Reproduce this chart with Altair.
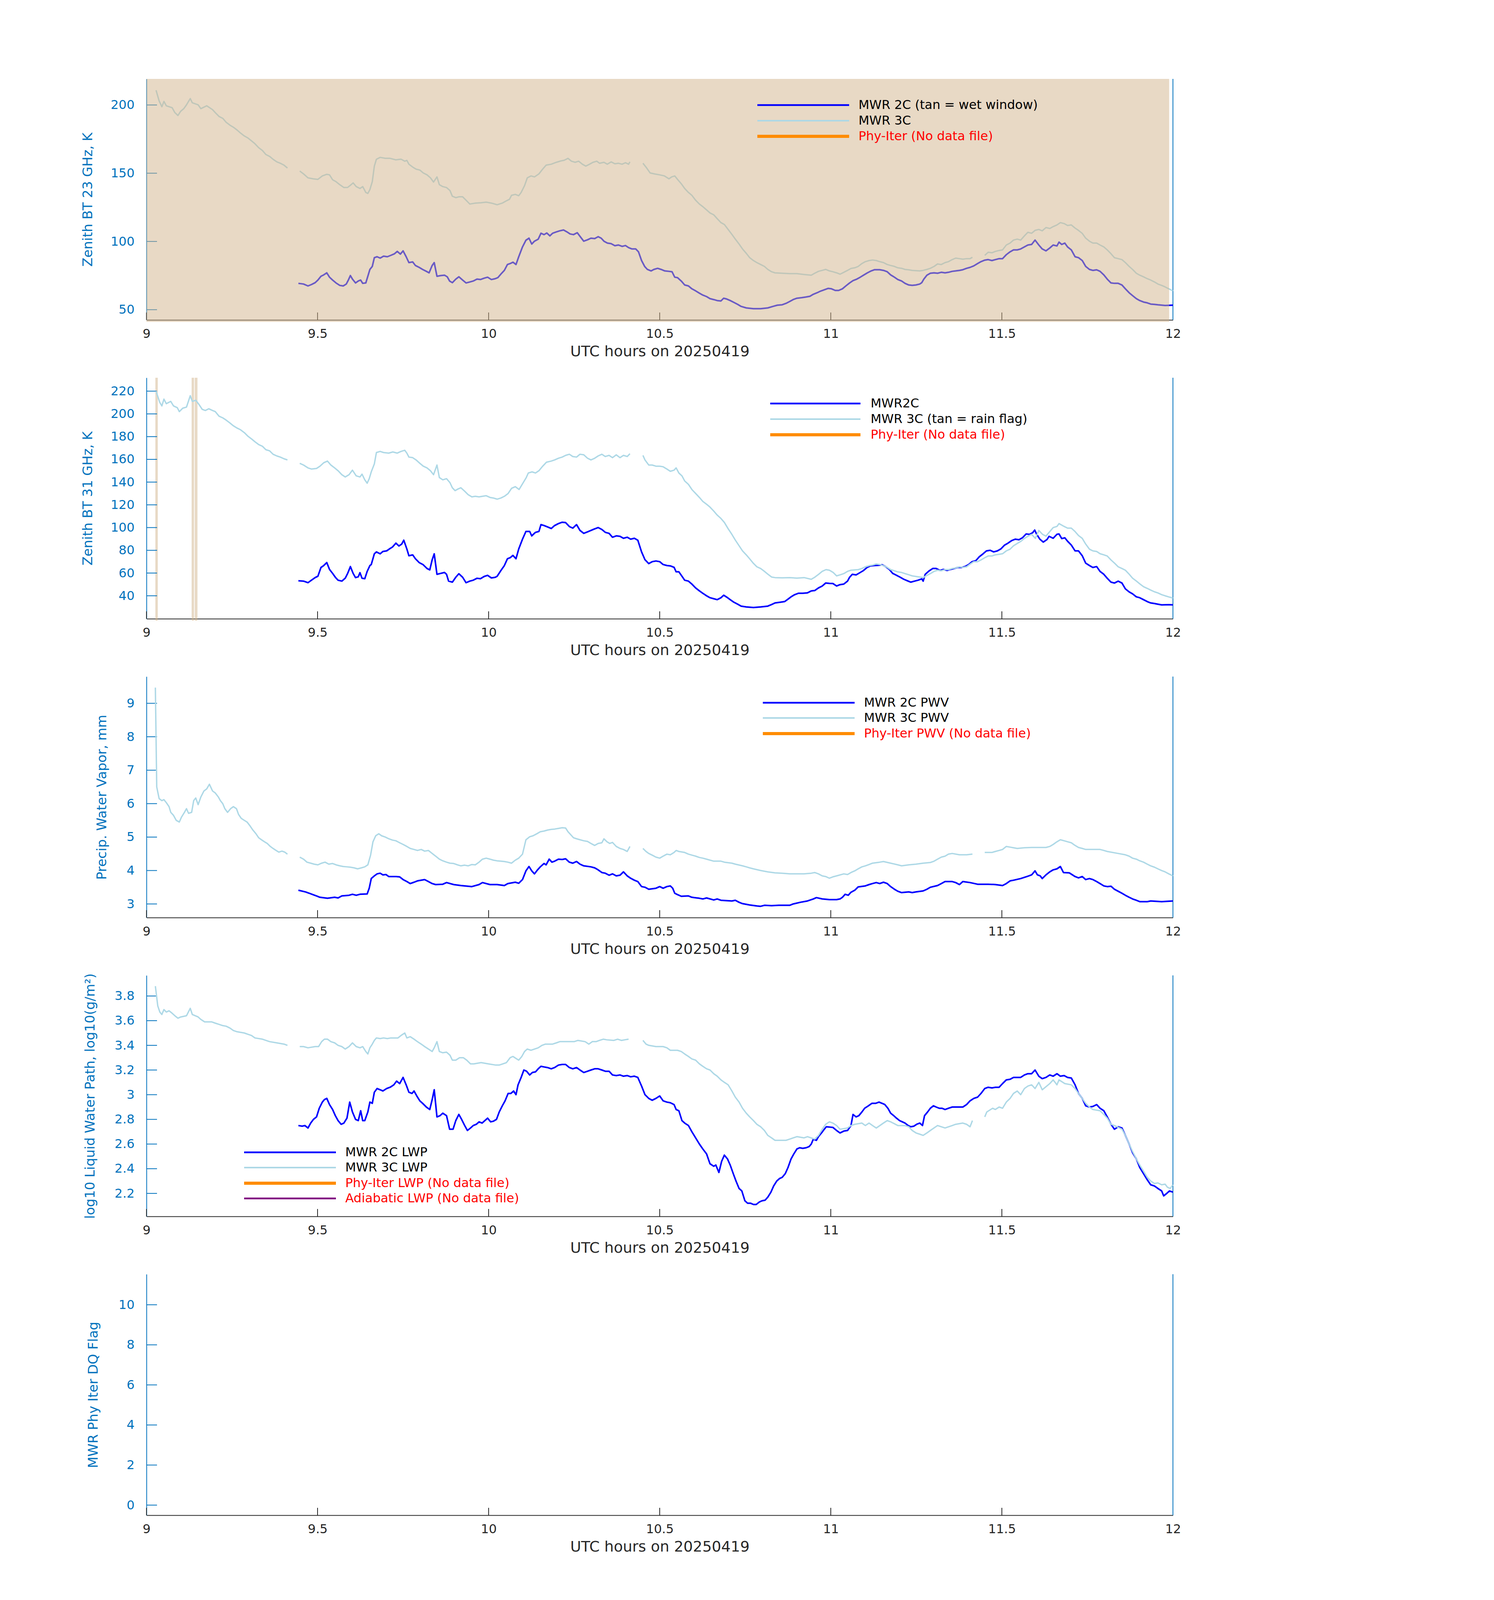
import altair as alt
import pandas as pd

FONT = "DejaVu Sans"
W = 2628          # plot width
H = 617           # plot height (the photo is only ~4100 px tall, so the layout is compressed vertically)
GAP = 148         # space between plot areas
TICK_FS = 32
LEG_FS = 32
XT_FS = 38
YT_FS = 34
BLUE = "#0000FF"
LIGHT = "#ADD8E6"
ORANGE = "#FF8C00"
PURPLE = "#800080"
AXBLUE = "#0072BD"
DARK = "#262626"
TAN = "#D2B48C"
RED = "#FF0000"

X_TICKS = [9, 9.5, 10, 10.5, 11, 11.5, 12]
X_TITLE = "UTC hours on 20250419"

# ---------------- shaded intervals ----------------
WET_START = [9.0]
WET_END = [11.989]
RAIN_START = [9.026, 9.132, 9.141]
RAIN_END = [9.033, 9.139, 9.149]

# ---------------- Panel 1: Zenith BT 23 GHz ----------------
BT23_2C = [
(9.444,69.3),(9.459,68.8),(9.472,67.4),(9.482,68.4),(9.493,69.8),(9.501,71.7),(9.510,74.5),(9.518,75.5),(9.527,77),
(9.535,73.8),(9.544,71.7),(9.554,69.6),(9.565,67.8),(9.575,67.4),(9.584,68.8),(9.590,71.7),(9.596,75),(9.602,72.4),
(9.611,69.6),(9.619,71),(9.626,71.7),(9.632,69.3),(9.641,69.6),(9.647,74.5),(9.653,79.5),(9.660,81.7),(9.666,88.1),
(9.674,88.8),(9.683,87.8),(9.693,89.2),(9.704,88.8),(9.714,89.8),(9.725,91),(9.733,92.7),(9.742,90.7),(9.750,93.1),
(9.759,88.8),(9.767,84.5),(9.778,85),(9.786,82.4),(9.797,81),(9.807,79.5),(9.818,78.1),(9.826,77),(9.835,82.4),
(9.841,84.5),(9.849,74.5),(9.860,75),(9.871,75.3),(9.879,74.1),(9.886,71),(9.894,69.8),(9.904,72.4),(9.913,74.1),
(9.924,71.7),(9.934,69.6),(9.945,70.3),(9.955,71),(9.966,72.4),(9.976,72.1),(9.987,73.1),(9.997,73.8),(10.008,72.1),
(10.019,72.7),(10.027,73.5),(10.038,76.7),(10.046,78.8),(10.055,83.1),(10.063,83.8),(10.071,84.8),(10.080,83.1),
(10.088,88.8),(10.099,96),(10.109,100.9),(10.118,102.4),(10.126,98.1),(10.134,100.2),(10.145,101.7),(10.153,106),
(10.162,105),(10.170,106.2),(10.179,104.1),(10.187,106),(10.198,107),(10.208,107.8),(10.219,108.4),(10.229,107),
(10.238,105.5),(10.248,105),(10.259,106.4),(10.269,103.1),(10.278,100.2),(10.289,101.2),(10.299,102.4),(10.310,102.1),
(10.320,103.5),(10.329,102.4),(10.337,100.2),(10.347,98.8),(10.358,98.4),(10.369,96.9),(10.379,97.4),(10.390,96.4),
(10.400,97),(10.409,95.5),(10.419,94.5),(10.430,94.5),(10.438,92.4),(10.447,86),(10.456,81.7),(10.464,79.5),
(10.475,78.4),(10.483,79.5),(10.494,80.3),(10.504,79.5),(10.515,78.4),(10.527,78.1),(10.536,77.8),(10.544,73.8),
(10.552,73.5),(10.563,71),(10.573,68.1),(10.584,67.4),(10.594,65.3),(10.605,63.8),(10.616,62.1),(10.626,60.7),
(10.637,59.6),(10.647,58.1),(10.658,57.4),(10.668,56.7),(10.679,56.4),(10.687,58.4),(10.696,57.8),(10.706,56.7),
(10.717,55.3),(10.728,53.9),(10.738,52.4),(10.753,51.3),(10.774,50.7),(10.795,50.7),(10.816,51.3),(10.831,52.4),
(10.844,53.3),(10.858,53.6),(10.869,54.6),(10.880,56),(10.890,57.4),(10.901,58.4),(10.915,58.8),(10.928,59.3),
(10.939,59.8),(10.949,61.3),(10.960,62.4),(10.970,63.6),(10.981,64.6),(10.992,65.6),(11.002,65.3),(11.013,64.1),
(11.023,64.1),(11.034,65.3),(11.044,67.4),(11.055,69.6),(11.065,71.3),(11.076,72.4),(11.086,73.8),(11.097,75.5),
(11.107,77),(11.118,78.4),(11.128,79.3),(11.143,79.3),(11.154,78.8),(11.165,77.8),(11.175,75.5),(11.186,73.8),
(11.196,72.1),(11.207,71),(11.217,69.3),(11.228,68.1),(11.238,67.8),(11.249,68.1),(11.260,68.8),(11.266,69.8),
(11.272,72.4),(11.281,75.3),(11.291,76.7),(11.302,77),(11.312,76.7),(11.323,77.4),(11.334,77),(11.344,77.4),
(11.355,78.1),(11.365,78.4),(11.376,78.8),(11.386,79.3),(11.397,80.3),(11.407,81),(11.418,82.1),(11.429,83.8),
(11.439,85.2),(11.450,86.3),(11.460,86.7),(11.471,86),(11.481,86.7),(11.492,87.4),(11.502,87.4),(11.513,90.3),
(11.524,92.4),(11.534,93.8),(11.545,93.8),(11.555,94.5),(11.566,96),(11.576,97.4),(11.587,97.8),(11.597,101),
(11.608,97.4),(11.618,94.5),(11.629,93.1),(11.640,95.2),(11.650,97.4),(11.661,96.7),(11.667,99.5),(11.675,97.8),
(11.684,98.8),(11.692,96),(11.703,93.8),(11.714,88.8),(11.724,88.1),(11.735,86),(11.745,81.7),(11.756,79.5),
(11.766,78.8),(11.777,79.2),(11.787,78.1),(11.798,75.5),(11.808,72.4),(11.819,69.6),(11.829,69.3),(11.840,69.3),
(11.851,68.1),(11.861,65.3),(11.872,62.4),(11.882,60.3),(11.893,58.1),(11.903,56.7),(11.914,55.6),(11.925,55),
(11.935,54.1),(11.946,53.9),(11.956,53.6),(11.977,53.1),(12.000,53.3),
]
BT23_3C = [
(9.028,210.8),(9.037,203),(9.045,198.7),(9.051,202.6),(9.058,199.4),(9.075,198),(9.083,194.4),(9.092,192.3),
(9.100,195.4),(9.109,197.3),(9.117,200.1),(9.128,204.7),(9.134,201.6),(9.151,200.1),(9.159,197.3),(9.176,199.4),
(9.193,196.6),(9.201,194.4),(9.212,191.6),(9.223,190.2),(9.233,187.3),(9.244,185.2),(9.254,183.7),(9.265,181.6),
(9.275,179.4),(9.286,177.3),(9.296,175.9),(9.307,173.7),(9.317,171.6),(9.328,168.7),(9.339,166.6),(9.349,163.7),
(9.360,162.3),(9.370,160.2),(9.381,158.3),(9.391,157.3),(9.402,155.9),(9.412,153.8),None,
(9.448,151.6),(9.459,149.5),(9.472,146.6),(9.487,145.9),(9.501,145.5),(9.514,148),(9.527,149.2),(9.535,148.8),
(9.544,145.2),(9.554,143.8),(9.565,141.6),(9.577,139.5),(9.588,139.6),(9.598,141.6),(9.604,142.9),(9.613,140.2),
(9.624,138.8),(9.632,140.2),(9.641,135.9),(9.647,135.2),(9.653,138),(9.660,143.8),(9.666,155.2),(9.672,160.2),
(9.683,161.6),(9.698,160.9),(9.712,160.9),(9.729,159.8),(9.744,160.3),(9.755,158.8),(9.761,159.4),(9.767,156.6),
(9.778,154.5),(9.788,153),(9.799,152.3),(9.809,150.2),(9.820,148.8),(9.830,146.6),(9.839,143.5),(9.849,147.3),
(9.856,141.6),(9.866,140.2),(9.877,139.5),(9.887,137.3),(9.894,133.1),(9.904,132.1),(9.913,132.7),(9.924,132.7),
(9.934,130.2),(9.945,127.4),(9.961,128.1),(9.978,128.4),(9.993,128.8),(10.008,128.1),(10.025,126.9),(10.040,128.1),
(10.050,129.5),(10.061,130.9),(10.067,133.8),(10.078,134.5),(10.088,133.5),(10.095,135.9),(10.105,140.9),
(10.113,146.6),(10.124,148),(10.134,147.3),(10.147,149.5),(10.158,153),(10.168,155.9),(10.183,156.6),(10.198,158),
(10.211,159),(10.221,159.5),(10.232,160.9),(10.242,158.8),(10.253,158),(10.263,158.8),(10.274,156.6),(10.284,155.2),
(10.295,156.6),(10.305,158),(10.316,158.8),(10.324,157.3),(10.337,158),(10.347,156.6),(10.358,158.3),(10.369,156.9),
(10.379,157.3),(10.390,156.6),(10.400,157.7),(10.409,156.6),(10.413,158.3),None,
(10.451,157.3),(10.462,153.8),(10.472,150.2),(10.485,149.5),(10.500,148.8),(10.514,148),(10.527,145.9),(10.535,147.3),
(10.544,148),(10.552,145.5),(10.563,142.3),(10.573,138.8),(10.584,135.9),(10.594,133.8),(10.605,130.2),(10.616,127.4),
(10.626,125.5),(10.637,123.1),(10.647,120.9),(10.658,119.5),(10.668,116.7),(10.679,113.8),(10.689,112.4),
(10.700,108.8),(10.711,105.2),(10.721,101.7),(10.732,98.1),(10.742,94.5),(10.753,91.3),(10.763,88.1),(10.774,86),
(10.784,84.5),(10.795,83.1),(10.806,81.7),(10.816,79.5),(10.827,77.8),(10.837,77),(10.858,76.7),(10.880,76.4),
(10.901,76.4),(10.922,75.8),(10.943,75.3),(10.953,76.7),(10.964,78.1),(10.975,78.8),(10.985,79.5),(10.996,78.4),
(11.006,77.8),(11.017,77),(11.027,76),(11.038,77.4),(11.049,78.8),(11.059,80.2),(11.070,80.7),(11.080,81.7),
(11.091,83.8),(11.101,85.2),(11.112,86),(11.122,86.4),(11.133,86),(11.143,85.2),(11.154,84.5),(11.165,83.1),
(11.175,82.4),(11.186,81.7),(11.196,80.7),(11.207,80.3),(11.217,79.5),(11.228,79.2),(11.238,78.8),(11.260,78.4),
(11.270,78.8),(11.281,79.5),(11.291,80.3),(11.302,81.7),(11.312,83.5),(11.323,83.1),(11.334,84.5),(11.344,85.2),
(11.355,86.7),(11.365,87.8),(11.376,87.4),(11.386,87),(11.397,87.4),(11.407,87.4),(11.414,88.4),None,
(11.450,89.8),(11.460,92.1),(11.471,91.7),(11.481,92.7),(11.492,93.4),(11.502,93.8),(11.513,97.4),(11.524,98.8),
(11.534,101),(11.545,101.7),(11.555,101),(11.566,104.1),(11.576,106.7),(11.587,106),(11.597,108.1),(11.608,108.8),
(11.618,107.8),(11.629,110.2),(11.640,109.5),(11.650,110.9),(11.661,112.1),(11.671,113.8),(11.682,113.1),
(11.692,111.7),(11.703,112.1),(11.714,109.8),(11.724,108.1),(11.735,105.9),(11.745,102.4),(11.756,100.2),
(11.766,98.8),(11.777,98.8),(11.787,97.4),(11.798,96),(11.808,93.8),(11.819,91),(11.829,88.1),(11.840,87.4),
(11.851,86.7),(11.861,84.5),(11.872,81.7),(11.882,79.5),(11.893,76.7),(11.903,75.3),(11.914,74.1),(11.925,72.7),
(11.935,71.7),(11.946,70.3),(11.956,68.8),(11.967,67.8),(11.977,66.7),(11.988,65.3),(12.000,63.8),
]

# ---------------- Panel 2: Zenith BT 31 GHz ----------------
BT31_2C = [
(9.444,53.2),(9.459,52.9),(9.472,51.5),(9.482,53.7),(9.493,56),(9.501,57.2),(9.510,64.9),(9.518,66.6),(9.527,69.2),
(9.535,63.2),(9.544,59.7),(9.552,56.3),(9.560,53.7),(9.571,52.9),(9.581,55.5),(9.588,59.7),(9.596,65.7),(9.604,59.7),
(9.611,56),(9.619,56.7),(9.624,60.3),(9.630,55.4),(9.638,55),(9.645,61.4),(9.653,66.6),(9.657,67.5),(9.666,76.9),
(9.672,78.6),(9.683,76.9),(9.691,79),(9.702,79.5),(9.710,81.2),(9.719,82.9),(9.729,86.3),(9.738,83.8),(9.746,85.5),
(9.752,88.9),(9.761,81.2),(9.767,75.2),(9.778,76),(9.786,72.6),(9.797,69.2),(9.808,67.5),(9.820,64),(9.828,62.8),
(9.835,71.7),(9.841,76.9),(9.849,58.9),(9.860,59.7),(9.871,60.5),(9.877,58.9),(9.883,52.9),(9.894,52),(9.904,56.3),
(9.913,59.4),(9.924,56.3),(9.934,51.5),(9.945,52.9),(9.955,53.7),(9.966,55.4),(9.976,55),(9.987,57),(9.997,58),
(10.008,55.7),(10.019,56.2),(10.025,57.2),(10.036,62.3),(10.046,66.6),(10.055,72.6),(10.063,73.5),(10.071,75.5),
(10.080,72.6),(10.088,81.2),(10.099,89.8),(10.109,96.6),(10.120,96.6),(10.126,92.7),(10.137,95.8),(10.147,96.6),
(10.153,102.6),(10.162,101.8),(10.172,100.6),(10.183,99.2),(10.193,101.8),(10.204,103.5),(10.215,104.7),
(10.225,104.4),(10.236,100.9),(10.246,99.5),(10.257,102.6),(10.267,97.5),(10.278,94.9),(10.289,96.2),(10.299,97.5),
(10.310,98.9),(10.320,100),(10.331,98.3),(10.341,95.8),(10.352,94.9),(10.362,91.5),(10.373,92.7),(10.384,92.3),
(10.394,90.6),(10.405,91.5),(10.415,89.8),(10.426,90.6),(10.436,88.9),(10.447,78.6),(10.457,71.7),(10.468,68.3),
(10.478,70),(10.489,70.6),(10.500,70),(10.510,67.5),(10.521,66.6),(10.531,66.3),(10.542,65),(10.548,61.1),
(10.556,61.1),(10.565,57.2),(10.573,53.7),(10.584,52.9),(10.594,50.3),(10.605,46.9),(10.616,44.3),(10.626,42.2),
(10.637,40),(10.647,38.3),(10.658,37.4),(10.668,36.6),(10.679,38.3),(10.687,40.5),(10.696,38.8),(10.706,36.6),
(10.717,34.3),(10.728,32.6),(10.738,30.9),(10.753,30.2),(10.774,29.7),(10.795,30.2),(10.816,30.9),(10.827,32.3),
(10.837,33.7),(10.852,34.3),(10.865,34.9),(10.873,36.6),(10.884,39.1),(10.894,40.9),(10.905,42.2),(10.918,42.2),
(10.932,42.6),(10.943,44.3),(10.953,44.6),(10.964,46.9),(10.975,48.6),(10.985,51.2),(10.996,50.9),(11.006,50.8),
(11.017,48.6),(11.027,49.8),(11.038,50.3),(11.049,52.9),(11.055,56.3),(11.063,58.9),(11.074,58.4),(11.085,60.3),
(11.095,62.1),(11.106,64.9),(11.116,66.3),(11.127,66.6),(11.139,66.8),(11.150,67.3),(11.160,65.7),(11.171,63.2),
(11.181,59.7),(11.192,58),(11.203,56.3),(11.213,54.6),(11.224,53.2),(11.234,52),(11.245,52.9),(11.255,53.7),
(11.266,54.9),(11.270,52.9),(11.276,58.9),(11.287,61.8),(11.298,64),(11.308,64),(11.319,62.3),(11.329,63.2),
(11.340,62.3),(11.350,63.2),(11.361,64),(11.371,64.9),(11.382,64.9),(11.392,65.7),(11.403,67.5),(11.413,70),
(11.424,70.9),(11.434,74.3),(11.445,76.9),(11.455,79.5),(11.466,80),(11.476,78.6),(11.487,79.5),(11.497,81.2),
(11.508,84.6),(11.518,86.3),(11.529,88.6),(11.539,89.8),(11.550,89.3),(11.560,91),(11.571,94.4),(11.581,94),
(11.590,95.5),(11.596,97.8),(11.602,94),(11.611,89.8),(11.621,87.2),(11.632,89.5),(11.638,92.3),(11.650,90.6),
(11.661,94.1),(11.667,94.4),(11.675,90.3),(11.684,91),(11.692,88),(11.703,84.6),(11.714,79.5),(11.724,79.5),
(11.735,75.2),(11.745,68.7),(11.756,66.6),(11.766,64.9),(11.777,65.7),(11.787,61.4),(11.798,58.9),(11.808,55.4),
(11.819,52),(11.829,51.2),(11.840,52.9),(11.851,51.2),(11.861,46.1),(11.872,43.4),(11.882,41.7),(11.893,39.1),
(11.903,38.3),(11.914,36.6),(11.925,34.9),(11.935,33.7),(11.946,33.2),(11.956,32.6),(11.967,32),(11.988,32.2),
(12.000,32),
]
BT31_3C = [
(9.028,220),(9.039,210),(9.045,207),(9.051,213),(9.058,209),(9.071,211),(9.079,207),(9.090,205.5),(9.096,202),
(9.106,205),(9.117,206),(9.128,216),(9.134,211),(9.144,212),(9.153,208.5),(9.163,204),(9.172,203),(9.182,204.5),
(9.193,203),(9.201,202),(9.212,198),(9.223,196.5),(9.233,194.5),(9.244,192),(9.254,189.5),(9.265,187.5),(9.275,186),
(9.286,183.5),(9.296,180.5),(9.307,178),(9.317,175.5),(9.328,173),(9.339,171.5),(9.349,168.5),(9.360,167.5),
(9.370,164.5),(9.381,163),(9.391,162),(9.402,160.5),(9.412,159.5),None,
(9.448,156.5),(9.459,155),(9.472,152.5),(9.482,151.5),(9.497,152),(9.507,154),(9.518,157),(9.529,158.5),(9.539,155),
(9.550,152.5),(9.560,150),(9.571,146.5),(9.581,144.5),(9.592,146.5),(9.602,150.5),(9.613,145.5),(9.624,144.5),
(9.630,147),(9.638,142),(9.645,139),(9.651,143),(9.657,149),(9.666,156),(9.672,166),(9.683,167),(9.693,166),
(9.708,165.5),(9.720,166.5),(9.733,165.5),(9.744,167),(9.755,168),(9.761,165.5),(9.767,162),(9.778,161.5),
(9.788,159.5),(9.799,156.5),(9.809,154),(9.820,152.5),(9.830,150),(9.839,146.5),(9.849,155),(9.856,144),(9.866,142),
(9.877,143),(9.887,139.5),(9.894,135),(9.902,132.5),(9.911,134),(9.919,135),(9.930,132),(9.940,129),(9.951,127),
(9.961,127.5),(9.972,127),(9.982,127.5),(9.993,128),(10.004,126.5),(10.014,126),(10.025,125),(10.036,126),
(10.046,127.5),(10.057,130),(10.067,134.5),(10.078,136),(10.089,133.5),(10.099,138.5),(10.110,144),(10.116,148),
(10.127,149),(10.137,148),(10.147,150),(10.158,154),(10.169,157.5),(10.183,158.5),(10.193,159.5),(10.204,161),
(10.215,162),(10.225,163.5),(10.236,164.5),(10.246,162.5),(10.257,162),(10.267,164.5),(10.278,164),(10.289,161),
(10.299,159.5),(10.310,161),(10.320,163),(10.331,164.5),(10.341,162.5),(10.352,163.5),(10.362,161.5),(10.373,164),
(10.384,161.5),(10.394,163.5),(10.405,162.5),(10.413,165),None,
(10.451,163.5),(10.457,159.5),(10.468,155),(10.478,155),(10.489,154),(10.500,154),(10.510,153.5),(10.521,151.5),
(10.531,149.5),(10.542,150.5),(10.548,152.5),(10.556,148),(10.565,145.5),(10.573,141),(10.584,138),(10.594,133.5),
(10.605,130),(10.616,126.5),(10.626,123),(10.637,120.5),(10.647,118),(10.658,114.5),(10.668,111),(10.679,108),
(10.689,104.5),(10.700,99),(10.711,94),(10.721,89),(10.732,84),(10.742,79.5),(10.753,76),(10.763,72.5),(10.774,68.5),
(10.784,65.5),(10.795,64),(10.806,61.5),(10.816,59),(10.827,56.5),(10.837,56),(10.858,55.8),(10.880,56),(10.901,55.5),
(10.922,56),(10.943,54.5),(10.954,56.5),(10.965,59),(10.975,61.5),(10.986,63),(10.996,62.5),(11.007,60.5),
(11.017,57.5),(11.028,58.5),(11.038,59.5),(11.049,61.5),(11.059,62.5),(11.080,63),(11.091,64),(11.101,65.5),
(11.112,66.5),(11.122,67),(11.133,68),(11.143,67.5),(11.154,66.5),(11.165,65),(11.175,63),(11.186,62),(11.196,61),
(11.207,60.5),(11.217,59.5),(11.228,58.5),(11.238,57.5),(11.249,57),(11.260,56.5),(11.270,56),(11.281,58),
(11.291,59.5),(11.302,61.5),(11.312,62.5),(11.323,62),(11.334,63),(11.345,63),(11.355,64),(11.366,64.5),(11.376,65.5),
(11.387,65),(11.397,65.5),(11.408,68),(11.418,70),(11.429,70),(11.439,71.5),(11.450,73.5),(11.460,75),(11.471,75),
(11.481,76),(11.492,76.5),(11.502,77),(11.513,79.5),(11.524,81),(11.534,84),(11.545,86),(11.556,88),(11.566,90.5),
(11.577,92.5),(11.587,94),(11.598,90.5),(11.608,97.5),(11.619,94),(11.629,92.5),(11.640,96.5),(11.650,100),
(11.661,101),(11.667,103.5),(11.676,102),(11.682,101),(11.692,99.5),(11.703,99.5),(11.714,96.5),(11.724,93),
(11.735,90.5),(11.745,85.5),(11.756,81),(11.766,79.5),(11.777,79),(11.787,77),(11.798,76),(11.808,75),(11.819,71.5),
(11.830,68.5),(11.840,65.5),(11.851,64),(11.861,62.5),(11.872,59),(11.882,55.5),(11.893,53),(11.903,50.5),(11.914,48),
(11.925,46.5),(11.935,45),(11.946,43.5),(11.956,42.5),(11.967,41),(11.977,40),(11.988,39),(12.000,38),
]

# ---------------- Panel 3: Precipitable water vapor ----------------
PWV_2C = [
(9.444,3.41),(9.465,3.36),(9.476,3.32),(9.486,3.28),(9.497,3.24),(9.507,3.20),(9.529,3.17),(9.550,3.20),(9.560,3.18),
(9.571,3.24),(9.592,3.26),(9.602,3.29),(9.613,3.26),(9.624,3.29),(9.645,3.30),(9.651,3.47),(9.657,3.76),(9.666,3.84),
(9.674,3.90),(9.683,3.92),(9.691,3.87),(9.700,3.88),(9.708,3.82),(9.729,3.82),(9.740,3.81),(9.750,3.73),(9.761,3.67),
(9.771,3.61),(9.782,3.65),(9.792,3.69),(9.813,3.73),(9.824,3.67),(9.835,3.61),(9.845,3.58),(9.866,3.59),(9.877,3.64),
(9.898,3.58),(9.919,3.55),(9.951,3.52),(9.972,3.58),(9.982,3.64),(10.004,3.58),(10.025,3.58),(10.046,3.55),
(10.056,3.61),(10.078,3.65),(10.088,3.62),(10.099,3.73),(10.109,3.99),(10.118,4.12),(10.126,3.99),(10.134,3.90),
(10.143,4.02),(10.151,4.11),(10.162,4.21),(10.168,4.17),(10.177,4.34),(10.185,4.25),(10.193,4.28),(10.204,4.34),
(10.215,4.33),(10.225,4.35),(10.236,4.25),(10.246,4.22),(10.257,4.27),(10.267,4.19),(10.278,4.14),(10.299,4.11),
(10.310,4.08),(10.320,4.02),(10.331,3.94),(10.341,3.92),(10.352,3.86),(10.362,3.90),(10.373,3.84),(10.384,3.86),
(10.394,3.96),(10.405,3.84),(10.415,3.77),(10.426,3.71),(10.436,3.67),(10.447,3.52),(10.457,3.50),(10.468,3.44),
(10.489,3.47),(10.500,3.52),(10.510,3.47),(10.521,3.52),(10.531,3.54),(10.538,3.47),(10.544,3.32),(10.552,3.28),
(10.563,3.23),(10.584,3.24),(10.594,3.20),(10.616,3.17),(10.626,3.15),(10.637,3.18),(10.658,3.12),(10.668,3.15),
(10.679,3.11),(10.711,3.09),(10.721,3.11),(10.732,3.05),(10.742,3.01),(10.763,2.97),(10.784,2.94),(10.795,2.93),
(10.806,2.96),(10.827,2.95),(10.848,2.96),(10.880,2.96),(10.890,3.00),(10.911,3.05),(10.932,3.09),(10.949,3.15),
(10.958,3.19),(10.975,3.15),(10.996,3.13),(11.017,3.13),(11.027,3.15),(11.034,3.20),(11.042,3.29),(11.051,3.26),
(11.059,3.35),(11.070,3.41),(11.080,3.51),(11.101,3.54),(11.112,3.58),(11.122,3.61),(11.133,3.64),(11.143,3.61),
(11.154,3.65),(11.165,3.61),(11.175,3.52),(11.186,3.44),(11.196,3.38),(11.207,3.34),(11.228,3.36),(11.238,3.34),
(11.249,3.36),(11.270,3.39),(11.281,3.44),(11.291,3.50),(11.312,3.55),(11.323,3.61),(11.334,3.67),(11.355,3.67),
(11.365,3.64),(11.376,3.58),(11.386,3.67),(11.407,3.64),(11.429,3.59),(11.460,3.59),(11.481,3.58),(11.502,3.55),
(11.513,3.61),(11.524,3.69),(11.534,3.71),(11.555,3.76),(11.576,3.83),(11.587,3.87),(11.597,3.99),(11.604,3.87),
(11.612,3.84),(11.618,3.76),(11.629,3.87),(11.640,3.96),(11.650,4.02),(11.661,4.05),(11.671,4.12),(11.680,3.94),
(11.697,3.93),(11.714,3.82),(11.724,3.78),(11.735,3.82),(11.745,3.73),(11.756,3.76),(11.766,3.73),(11.777,3.67),
(11.787,3.61),(11.798,3.54),(11.808,3.52),(11.819,3.53),(11.829,3.44),(11.840,3.38),(11.851,3.32),(11.861,3.26),
(11.872,3.20),(11.882,3.15),(11.893,3.11),(11.903,3.07),(11.925,3.07),(11.935,3.09),(11.967,3.07),(12.000,3.09),
]
PWV_3C = [
(9.026,9.47),(9.030,6.50),(9.037,6.15),(9.045,6.09),(9.051,6.12),(9.058,6.03),(9.066,5.91),(9.071,5.74),(9.079,5.65),
(9.087,5.50),(9.096,5.45),(9.102,5.59),(9.111,5.74),(9.117,5.85),(9.123,5.71),(9.132,5.74),(9.138,6.09),(9.144,6.17),
(9.151,5.97),(9.159,6.20),(9.168,6.38),(9.176,6.44),(9.184,6.58),(9.193,6.38),(9.201,6.32),(9.210,6.20),(9.216,6.09),
(9.223,6.00),(9.229,5.85),(9.237,5.74),(9.246,5.85),(9.254,5.91),(9.263,5.85),(9.269,5.68),(9.277,5.56),(9.286,5.50),
(9.294,5.45),(9.303,5.33),(9.311,5.21),(9.320,5.10),(9.328,4.98),(9.336,4.92),(9.345,4.86),(9.353,4.81),(9.362,4.72),
(9.370,4.66),(9.379,4.60),(9.387,4.55),(9.396,4.58),(9.404,4.55),(9.412,4.49),None,
(9.448,4.40),(9.459,4.34),(9.469,4.25),(9.480,4.22),(9.490,4.19),(9.501,4.17),(9.512,4.22),(9.522,4.25),(9.533,4.19),
(9.544,4.21),(9.554,4.17),(9.565,4.14),(9.575,4.12),(9.586,4.11),(9.596,4.10),(9.607,4.08),(9.617,4.05),(9.628,4.08),
(9.638,4.11),(9.647,4.17),(9.655,4.46),(9.662,4.86),(9.670,5.04),(9.679,5.10),(9.687,5.04),(9.698,5.00),(9.708,4.95),
(9.719,4.91),(9.729,4.89),(9.740,4.83),(9.750,4.78),(9.761,4.72),(9.771,4.66),(9.782,4.63),(9.792,4.60),(9.803,4.63),
(9.813,4.58),(9.824,4.60),(9.835,4.51),(9.845,4.43),(9.856,4.34),(9.866,4.29),(9.877,4.25),(9.887,4.22),(9.898,4.21),
(9.909,4.17),(9.919,4.14),(9.930,4.16),(9.940,4.14),(9.951,4.18),(9.961,4.17),(9.972,4.25),(9.982,4.34),(9.993,4.37),
(10.004,4.34),(10.014,4.31),(10.025,4.29),(10.035,4.28),(10.046,4.27),(10.056,4.25),(10.067,4.22),(10.078,4.31),
(10.088,4.37),(10.099,4.49),(10.109,4.92),(10.120,5.01),(10.130,5.04),(10.141,5.10),(10.151,5.16),(10.162,5.18),
(10.172,5.21),(10.183,5.23),(10.193,5.24),(10.204,5.26),(10.215,5.28),(10.225,5.27),(10.232,5.16),(10.240,5.07),
(10.248,4.98),(10.257,4.95),(10.267,4.92),(10.278,4.89),(10.289,4.87),(10.299,4.81),(10.310,4.75),(10.320,4.81),
(10.331,4.83),(10.337,4.95),(10.346,4.86),(10.354,4.81),(10.362,4.84),(10.373,4.72),(10.384,4.66),(10.394,4.63),
(10.405,4.57),(10.413,4.72),None,
(10.451,4.66),(10.460,4.57),(10.468,4.51),(10.478,4.46),(10.489,4.40),(10.500,4.37),(10.510,4.43),(10.521,4.49),
(10.531,4.47),(10.542,4.54),(10.548,4.60),(10.556,4.57),(10.573,4.54),(10.584,4.49),(10.605,4.43),(10.616,4.39),
(10.626,4.37),(10.637,4.34),(10.658,4.28),(10.679,4.28),(10.689,4.25),(10.711,4.22),(10.721,4.19),(10.742,4.14),
(10.753,4.11),(10.763,4.08),(10.774,4.05),(10.795,4.00),(10.816,3.96),(10.837,3.93),(10.858,3.92),(10.880,3.90),
(10.922,3.90),(10.943,3.92),(10.953,3.94),(10.964,3.90),(10.975,3.84),(10.985,3.82),(10.996,3.77),(11.006,3.81),
(11.017,3.84),(11.038,3.90),(11.049,3.88),(11.059,3.94),(11.070,3.99),(11.080,4.05),(11.091,4.11),(11.101,4.14),
(11.112,4.18),(11.122,4.22),(11.143,4.25),(11.154,4.27),(11.175,4.22),(11.196,4.17),(11.207,4.14),(11.228,4.17),
(11.249,4.19),(11.270,4.22),(11.291,4.24),(11.302,4.28),(11.312,4.34),(11.323,4.40),(11.334,4.43),(11.344,4.49),
(11.355,4.51),(11.376,4.47),(11.397,4.47),(11.414,4.49),None,
(11.450,4.54),(11.471,4.54),(11.481,4.57),(11.492,4.60),(11.502,4.63),(11.513,4.72),(11.524,4.70),(11.534,4.68),
(11.545,4.66),(11.566,4.68),(11.587,4.69),(11.608,4.69),(11.629,4.69),(11.640,4.72),(11.650,4.78),(11.661,4.86),
(11.671,4.92),(11.682,4.89),(11.692,4.86),(11.703,4.83),(11.714,4.75),(11.724,4.69),(11.735,4.66),(11.745,4.63),
(11.766,4.63),(11.787,4.63),(11.798,4.60),(11.808,4.57),(11.840,4.51),(11.861,4.47),(11.872,4.43),(11.882,4.37),
(11.893,4.34),(11.903,4.29),(11.914,4.25),(11.925,4.19),(11.935,4.14),(11.946,4.10),(11.956,4.05),(11.967,4.00),
(11.977,3.96),(11.988,3.90),(12.000,3.84),
]

# ---------------- Panel 4: log10 liquid water path ----------------
LWP_2C = [
(9.444,2.75),(9.455,2.745),(9.463,2.75),(9.472,2.73),(9.480,2.77),(9.488,2.80),(9.497,2.82),(9.505,2.89),(9.514,2.94),
(9.520,2.96),(9.527,2.97),(9.535,2.92),(9.544,2.88),(9.552,2.83),(9.560,2.79),(9.569,2.76),(9.577,2.77),(9.586,2.81),
(9.594,2.94),(9.602,2.86),(9.611,2.80),(9.619,2.79),(9.626,2.87),(9.632,2.79),(9.638,2.79),(9.647,2.86),(9.653,2.94),
(9.660,2.93),(9.666,3.02),(9.674,3.05),(9.683,3.04),(9.691,3.03),(9.702,3.05),(9.712,3.06),(9.723,3.08),(9.731,3.11),
(9.740,3.09),(9.750,3.14),(9.759,3.08),(9.767,3.02),(9.776,3.01),(9.782,3.03),(9.790,2.99),(9.799,2.95),(9.807,2.93),
(9.818,2.90),(9.828,2.88),(9.835,2.96),(9.841,3.04),(9.849,2.82),(9.858,2.83),(9.866,2.85),(9.877,2.83),(9.886,2.72),
(9.896,2.72),(9.904,2.79),(9.913,2.84),(9.921,2.80),(9.930,2.75),(9.938,2.71),(9.947,2.73),(9.955,2.75),(9.964,2.76),
(9.972,2.78),(9.981,2.77),(9.989,2.79),(9.997,2.81),(10.006,2.78),(10.014,2.785),(10.023,2.80),(10.031,2.86),
(10.040,2.91),(10.048,2.95),(10.057,3.01),(10.065,3.01),(10.073,3.03),(10.080,3.00),(10.086,3.08),(10.095,3.14),
(10.103,3.20),(10.111,3.19),(10.120,3.16),(10.128,3.18),(10.137,3.185),(10.145,3.21),(10.153,3.23),(10.162,3.225),
(10.172,3.22),(10.183,3.21),(10.193,3.22),(10.204,3.24),(10.215,3.245),(10.225,3.245),(10.236,3.22),(10.246,3.21),
(10.257,3.22),(10.267,3.20),(10.278,3.18),(10.289,3.19),(10.299,3.20),(10.310,3.21),(10.320,3.21),(10.331,3.20),
(10.341,3.19),(10.352,3.19),(10.362,3.16),(10.373,3.155),(10.384,3.16),(10.394,3.15),(10.405,3.155),(10.415,3.145),
(10.426,3.15),(10.436,3.14),(10.447,3.07),(10.457,3.00),(10.468,2.97),(10.478,2.955),(10.489,2.97),(10.500,2.99),
(10.510,2.95),(10.521,2.94),(10.531,2.935),(10.542,2.92),(10.548,2.88),(10.556,2.87),(10.565,2.79),(10.573,2.77),
(10.584,2.75),(10.594,2.70),(10.605,2.65),(10.616,2.60),(10.626,2.56),(10.637,2.52),(10.647,2.44),(10.658,2.42),
(10.664,2.43),(10.673,2.37),(10.681,2.46),(10.689,2.51),(10.698,2.48),(10.706,2.43),(10.715,2.36),(10.723,2.30),
(10.732,2.24),(10.740,2.22),(10.749,2.14),(10.757,2.12),(10.766,2.12),(10.774,2.11),(10.782,2.11),(10.791,2.13),
(10.799,2.14),(10.808,2.145),(10.816,2.17),(10.825,2.21),(10.833,2.26),(10.842,2.30),(10.850,2.32),(10.858,2.33),
(10.867,2.36),(10.875,2.41),(10.884,2.48),(10.892,2.52),(10.901,2.56),(10.909,2.57),(10.918,2.565),(10.928,2.57),
(10.937,2.58),(10.943,2.60),(10.949,2.64),(10.958,2.63),(10.964,2.66),(10.973,2.69),(10.981,2.72),(10.987,2.74),
(11.006,2.735),(11.017,2.71),(11.027,2.69),(11.038,2.705),(11.049,2.71),(11.059,2.75),(11.065,2.84),(11.074,2.82),
(11.082,2.83),(11.091,2.86),(11.099,2.89),(11.110,2.91),(11.120,2.93),(11.131,2.93),(11.141,2.94),(11.150,2.93),
(11.158,2.92),(11.167,2.89),(11.175,2.85),(11.184,2.83),(11.192,2.81),(11.201,2.79),(11.209,2.78),(11.217,2.77),
(11.226,2.75),(11.234,2.74),(11.243,2.745),(11.251,2.76),(11.260,2.77),(11.268,2.75),(11.274,2.83),(11.283,2.86),
(11.291,2.89),(11.300,2.91),(11.308,2.90),(11.317,2.89),(11.325,2.89),(11.334,2.88),(11.344,2.89),(11.355,2.90),
(11.376,2.90),(11.386,2.90),(11.397,2.92),(11.407,2.95),(11.418,2.97),(11.429,2.98),(11.439,3.01),(11.450,3.05),
(11.460,3.06),(11.471,3.055),(11.481,3.06),(11.492,3.06),(11.502,3.09),(11.513,3.12),(11.524,3.125),(11.534,3.14),
(11.555,3.14),(11.566,3.16),(11.576,3.17),(11.587,3.17),(11.597,3.20),(11.608,3.15),(11.618,3.13),(11.629,3.14),
(11.640,3.16),(11.650,3.15),(11.661,3.17),(11.671,3.15),(11.682,3.155),(11.692,3.14),(11.703,3.135),(11.714,3.08),
(11.724,3.01),(11.735,2.97),(11.745,2.91),(11.756,2.90),(11.766,2.905),(11.777,2.92),(11.787,2.89),(11.798,2.87),
(11.808,2.82),(11.819,2.76),(11.829,2.72),(11.840,2.74),(11.851,2.73),(11.861,2.67),(11.872,2.60),(11.882,2.53),
(11.893,2.48),(11.903,2.41),(11.914,2.36),(11.925,2.31),(11.935,2.27),(11.946,2.26),(11.956,2.24),(11.967,2.22),
(11.973,2.18),(11.982,2.20),(11.990,2.22),(12.000,2.21),
]
LWP_3C = [
(9.026,3.88),(9.033,3.72),(9.039,3.67),(9.045,3.65),(9.051,3.69),(9.058,3.67),(9.066,3.68),(9.075,3.66),(9.083,3.64),
(9.092,3.62),(9.100,3.63),(9.117,3.64),(9.128,3.70),(9.134,3.65),(9.151,3.63),(9.159,3.61),(9.170,3.59),(9.191,3.59),
(9.201,3.58),(9.212,3.57),(9.223,3.56),(9.233,3.555),(9.244,3.54),(9.254,3.52),(9.265,3.51),(9.286,3.50),(9.296,3.49),
(9.307,3.48),(9.317,3.46),(9.339,3.45),(9.349,3.44),(9.360,3.43),(9.381,3.42),(9.402,3.41),(9.412,3.40),None,
(9.448,3.39),(9.459,3.39),(9.472,3.38),(9.493,3.39),(9.503,3.39),(9.512,3.43),(9.520,3.45),(9.529,3.45),(9.539,3.43),
(9.550,3.42),(9.560,3.40),(9.571,3.39),(9.581,3.37),(9.592,3.39),(9.602,3.42),(9.613,3.39),(9.624,3.38),(9.632,3.39),
(9.641,3.35),(9.647,3.33),(9.653,3.38),(9.660,3.41),(9.666,3.44),(9.672,3.46),(9.683,3.455),(9.693,3.46),(9.704,3.455),
(9.714,3.46),(9.725,3.46),(9.735,3.46),(9.744,3.48),(9.755,3.50),(9.761,3.46),(9.771,3.47),(9.782,3.45),(9.792,3.43),
(9.803,3.41),(9.813,3.39),(9.824,3.37),(9.835,3.35),(9.841,3.38),(9.849,3.43),(9.856,3.35),(9.866,3.34),(9.877,3.345),
(9.887,3.32),(9.894,3.28),(9.904,3.28),(9.915,3.30),(9.926,3.30),(9.936,3.28),(9.947,3.25),(9.957,3.25),(9.978,3.26),
(9.999,3.25),(10.021,3.24),(10.031,3.24),(10.042,3.25),(10.052,3.26),(10.063,3.30),(10.071,3.31),(10.082,3.29),
(10.088,3.28),(10.097,3.31),(10.105,3.35),(10.113,3.37),(10.124,3.36),(10.134,3.37),(10.145,3.38),(10.156,3.40),
(10.166,3.41),(10.187,3.41),(10.198,3.42),(10.208,3.43),(10.219,3.43),(10.240,3.43),(10.250,3.43),(10.261,3.44),
(10.282,3.43),(10.293,3.41),(10.303,3.43),(10.314,3.43),(10.324,3.44),(10.335,3.45),(10.345,3.445),(10.366,3.44),
(10.377,3.45),(10.388,3.44),(10.398,3.445),(10.409,3.45),None,
(10.451,3.44),(10.460,3.41),(10.468,3.40),(10.489,3.39),(10.510,3.39),(10.521,3.38),(10.531,3.36),(10.552,3.36),
(10.563,3.35),(10.573,3.33),(10.584,3.31),(10.594,3.29),(10.605,3.28),(10.616,3.25),(10.626,3.23),(10.637,3.21),
(10.647,3.20),(10.658,3.17),(10.668,3.15),(10.679,3.12),(10.689,3.10),(10.700,3.08),(10.711,3.03),(10.721,2.98),
(10.732,2.94),(10.742,2.89),(10.753,2.85),(10.763,2.82),(10.774,2.79),(10.784,2.76),(10.795,2.74),(10.806,2.71),
(10.816,2.67),(10.827,2.65),(10.837,2.63),(10.848,2.63),(10.869,2.63),(10.880,2.64),(10.901,2.66),(10.922,2.65),
(10.932,2.66),(10.953,2.64),(10.964,2.67),(10.975,2.72),(10.985,2.76),(10.996,2.78),(11.006,2.77),(11.017,2.75),
(11.027,2.72),(11.049,2.73),(11.059,2.75),(11.070,2.76),(11.091,2.77),(11.101,2.75),(11.112,2.77),(11.122,2.75),
(11.133,2.73),(11.154,2.77),(11.165,2.79),(11.175,2.78),(11.196,2.75),(11.217,2.75),(11.228,2.74),(11.238,2.71),
(11.249,2.69),(11.260,2.68),(11.270,2.67),(11.281,2.69),(11.291,2.71),(11.312,2.75),(11.334,2.73),(11.355,2.75),
(11.365,2.76),(11.386,2.77),(11.397,2.76),(11.407,2.74),(11.414,2.79),None,
(11.450,2.82),(11.456,2.86),(11.473,2.89),(11.481,2.88),(11.492,2.90),(11.502,2.89),(11.513,2.94),(11.524,2.97),
(11.534,3.01),(11.545,3.03),(11.555,3.00),(11.566,3.05),(11.576,3.07),(11.587,3.08),(11.597,3.05),(11.608,3.10),
(11.618,3.04),(11.640,3.09),(11.650,3.12),(11.661,3.08),(11.667,3.12),(11.684,3.09),(11.703,3.08),(11.714,3.05),
(11.724,3.01),(11.735,2.97),(11.745,2.93),(11.756,2.90),(11.766,2.88),(11.787,2.87),(11.798,2.84),(11.808,2.81),
(11.819,2.76),(11.829,2.75),(11.851,2.72),(11.861,2.67),(11.872,2.60),(11.882,2.54),(11.893,2.48),(11.903,2.43),
(11.914,2.38),(11.925,2.33),(11.935,2.30),(11.946,2.28),(11.956,2.285),(11.967,2.27),(11.977,2.275),(11.984,2.25),
(11.992,2.24),(12.000,2.27),
]

# ---------------- axes: ranges, ticks, titles ----------------
Y_DOMAINS = [[42.5, 219.1], [19.8, 231.8], [2.593, 9.80], [2.0135, 3.967], [-0.505, 11.525]]
Y_TICKS = [
    [50, 100, 150, 200],
    [40, 60, 80, 100, 120, 140, 160, 180, 200, 220],
    [3, 4, 5, 6, 7, 8, 9],
    [2.2, 2.4, 2.6, 2.8, 3.0, 3.2, 3.4, 3.6, 3.8],
    [0, 2, 4, 6, 8, 10],
]
Y_TITLES = [
    "Zenith BT 23 GHz, K",
    "Zenith BT 31 GHz, K",
    "Precip. Water Vapor, mm",
    "log10 Liquid Water Path, log10(g/m²)",
    "MWR Phy Iter DQ Flag",
]
Y_TITLE_X = [-140, -140, -104, -134, -126]

LEG1 = [("MWR 2C (tan = wet window)", BLUE, 4.5, "black"),
        ("MWR 3C", LIGHT, 4, "black"),
        ("Phy-Iter (No data file)", ORANGE, 8, RED)]
LEG2 = [("MWR2C", BLUE, 4.5, "black"),
        ("MWR 3C (tan = rain flag)", LIGHT, 4, "black"),
        ("Phy-Iter (No data file)", ORANGE, 8, RED)]
LEG3 = [("MWR 2C PWV", BLUE, 4.5, "black"),
        ("MWR 3C PWV", LIGHT, 4, "black"),
        ("Phy-Iter PWV (No data file)", ORANGE, 8, RED)]
LEG4 = [("MWR 2C LWP", BLUE, 4.5, "black"),
        ("MWR 3C LWP", LIGHT, 4, "black"),
        ("Phy-Iter LWP (No data file)", ORANGE, 8, RED),
        ("Adiabatic LWP (No data file)", PURPLE, 4.5, RED)]
# legend placement in pixels inside each plot: line start, line end, text start, row positions
LEG_POS = [
    (1564, 1799, 1823, [67, 107, 147]),
    (1597, 1828, 1854, [66, 106, 146]),
    (1578, 1813, 1837, [67, 106, 146]),
    (250, 485, 509, [453, 492, 532, 571]),
]


def to_df(pairs):
    rows, seg = [], 0
    for p in pairs:
        if p is None:
            seg += 1
            continue
        rows.append({"t": p[0], "v": p[1], "seg": seg})
    return pd.DataFrame(rows)


def make_panel(i, series=(), legend=None, under=None, over=None):
    xs = alt.Scale(domain=[9, 12], nice=False, zero=False)
    ys = alt.Scale(domain=Y_DOMAINS[i], nice=False, zero=False)
    xax = alt.Axis(values=X_TICKS, format="~f", grid=False, ticks=False, tickSize=0,
                   domainColor=DARK, domainWidth=2, labelFont=FONT, labelFontSize=TICK_FS,
                   labelColor=DARK, labelPadding=20, labelFlush=False, labelOverlap=False,
                   title=X_TITLE, titleFont=FONT, titleFontSize=XT_FS, titleFontWeight="normal",
                   titleColor=DARK, titleY=92, titleBaseline="alphabetic")
    yax = alt.Axis(values=Y_TICKS[i], format="~f", grid=False, ticks=False, tickSize=0,
                   domainColor=AXBLUE, domainWidth=2, labelFont=FONT, labelFontSize=TICK_FS,
                   labelColor=AXBLUE, labelPadding=31, labelOverlap=False,
                   title=Y_TITLES[i], titleFont=FONT, titleFontSize=YT_FS, titleFontWeight="normal",
                   titleColor=AXBLUE, titleAngle=270, titleAlign="center",
                   titleBaseline="alphabetic", titleX=Y_TITLE_X[i], titleY=H / 2)

    def X():
        return alt.X("t:Q", scale=xs, axis=xax)

    def Y():
        return alt.Y("v:Q", scale=ys, axis=yax)

    layers = []
    if under is not None:
        starts, ends = under
        layers.append(alt.Chart(pd.DataFrame({"t": starts, "t2": ends})).mark_rect(
            color=TAN, opacity=0.5).encode(x=X(), x2="t2:Q", y=alt.value(0), y2=alt.value(H + 5)))

    layers.append(alt.Chart(pd.DataFrame({"v": Y_TICKS[i]})).mark_rule(
        color=AXBLUE, strokeWidth=2).encode(x=alt.value(0), x2=alt.value(27), y=Y()))
    layers.append(alt.Chart(pd.DataFrame({"t": X_TICKS})).mark_rule(
        color=DARK, strokeWidth=2).encode(x=X(), y=alt.value(H), y2=alt.value(H - 19)))
    layers.append(alt.Chart(pd.DataFrame({"k": [0]})).mark_rule(
        color=AXBLUE, strokeWidth=2).encode(x=alt.value(W), y=alt.value(0), y2=alt.value(H)))

    for pairs, color, sw in series:
        layers.append(alt.Chart(to_df(pairs)).mark_line(
            color=color, strokeWidth=sw, strokeJoin="round").encode(
            x=X(), y=Y(), detail="seg:N"))

    if over is not None:
        starts, ends = over
        layers.append(alt.Chart(pd.DataFrame({"t": starts, "t2": ends})).mark_rect(
            color=TAN, opacity=0.5).encode(x=X(), x2="t2:Q", y=alt.value(0), y2=alt.value(H + 5)))

    if legend is not None:
        entries, (lx0, lx1, ltx, rows) = legend
        for (label, lc, lw, tc), yr in zip(entries, rows):
            d = pd.DataFrame({"label": [label]})
            layers.append(alt.Chart(d).mark_rule(color=lc, strokeWidth=lw, strokeCap="butt").encode(
                x=alt.value(lx0), x2=alt.value(lx1), y=alt.value(yr)))
            layers.append(alt.Chart(d).mark_text(font=FONT, fontSize=LEG_FS, color=tc, align="left",
                                                 baseline="middle").encode(
                x=alt.value(ltx), y=alt.value(yr), text="label:N"))

    return alt.layer(*layers).properties(width=W, height=H)


p1 = make_panel(0, [(BT23_2C, BLUE, 4), (BT23_3C, LIGHT, 3.5)], (LEG1, LEG_POS[0]),
                over=(WET_START, WET_END))
p2 = make_panel(1, [(BT31_2C, BLUE, 4), (BT31_3C, LIGHT, 3.5)], (LEG2, LEG_POS[1]),
                under=(RAIN_START, RAIN_END))
p3 = make_panel(2, [(PWV_2C, BLUE, 4), (PWV_3C, LIGHT, 3.5)], (LEG3, LEG_POS[2]))
p4 = make_panel(3, [(LWP_2C, BLUE, 4), (LWP_3C, LIGHT, 3.5)], (LEG4, LEG_POS[3]))
p5 = make_panel(4)

chart = alt.vconcat(p1, p2, p3, p4, p5, spacing=GAP, bounds="flush").properties(
    padding={"left": 200, "top": 193, "right": 60, "bottom": 20},
    background="white",
).configure_view(stroke=None)

chart.save("out.html", embed_options={"renderer": "svg", "actions": False})
